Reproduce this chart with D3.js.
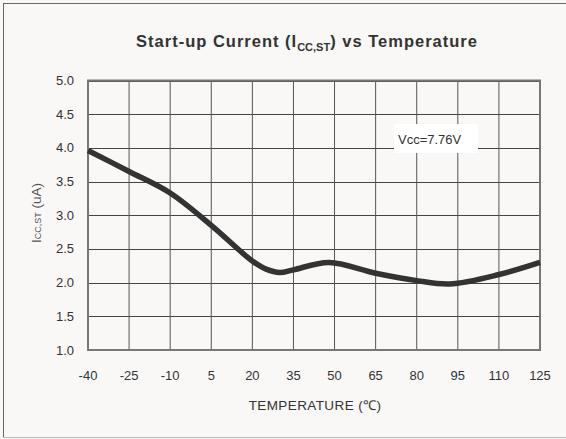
<!DOCTYPE html>
<html>
<head>
<meta charset="utf-8">
<script src="https://cdn.jsdelivr.net/npm/d3@7"></script>
<style>
  body { margin: 0; background: #fff; }
  svg { display: block; font-family: "Liberation Sans", Arial, sans-serif; }
</style>
</head>
<body>
<svg width="566" height="439"></svg>
<script>
// values
var temps = [-40, -25, -10, 5, 20, 25, 30, 35, 48, 65, 80, 92, 110, 125];
var current = [3.96, 3.65, 3.33, 2.85, 2.32, 2.2, 2.15, 2.19, 2.3, 2.14, 2.03, 1.98, 2.12, 2.3];
var xTicks = [-40, -25, -10, 5, 20, 35, 50, 65, 80, 95, 110, 125];
var yTicks = [1.0, 1.5, 2.0, 2.5, 3.0, 3.5, 4.0, 4.5, 5.0];

let svg = d3.select("svg");

var margin = { left: 88, right: 540, top: 80.5, bottom: 350 };

// frame
svg.append("rect")
  .attr("x", 0).attr("y", 0).attr("width", 566).attr("height", 439)
  .attr("fill", "#f9f8f7");
svg.append("rect")
  .attr("x", 3.5).attr("y", 3.5).attr("width", 563).attr("height", 434)
  .attr("fill", "none").attr("stroke", "#666").attr("stroke-width", 1);
svg.append("line")
  .attr("x1", 3).attr("x2", 566).attr("y1", 437.5).attr("y2", 437.5)
  .attr("stroke", "#bbb");

var x = d3.scaleLinear().domain([-40, 125]).range([margin.left, margin.right]);
var y = d3.scaleLinear().domain([1, 5]).range([margin.bottom, margin.top]);

var g = svg.append("g");

// gridlines
g.selectAll(".hgrid")
  .data(yTicks)
  .enter()
  .append("line")
  .attr("x1", margin.left).attr("x2", margin.right)
  .attr("y1", function (d) { return Math.round(y(d)) + 0.5; })
  .attr("y2", function (d) { return Math.round(y(d)) + 0.5; })
  .attr("stroke", "#444").attr("stroke-width", 1);

g.selectAll(".vgrid")
  .data(xTicks)
  .enter()
  .append("line")
  .attr("y1", margin.top).attr("y2", margin.bottom)
  .attr("x1", function (d) { return x(d); })
  .attr("x2", function (d) { return x(d); })
  .attr("stroke", "#555").attr("stroke-width", 1);

// plot border
g.append("rect")
  .attr("x", margin.left).attr("y", margin.top)
  .attr("width", margin.right - margin.left).attr("height", margin.bottom - margin.top)
  .attr("fill", "none").attr("stroke", "#777").attr("stroke-width", 2);

// tick labels
g.selectAll(".ylab")
  .data(yTicks)
  .enter()
  .append("text")
  .attr("x", 74)
  .attr("y", function (d) { return y(d) + 4.5; })
  .attr("text-anchor", "end")
  .attr("font-size", 13)
  .attr("fill", "#333")
  .text(function (d) { return d3.format(".1f")(d); });

g.selectAll(".xlab")
  .data(xTicks)
  .enter()
  .append("text")
  .attr("x", function (d) { return x(d); })
  .attr("y", 380)
  .attr("text-anchor", "middle")
  .attr("font-size", 13)
  .attr("fill", "#333")
  .text(function (d) { return d; });

// annotation box
g.append("rect")
  .attr("x", 394).attr("y", 124).attr("width", 84).attr("height", 29)
  .attr("fill", "#fff");
g.append("text")
  .attr("x", 398).attr("y", 144)
  .attr("font-size", 13)
  .attr("fill", "#333")
  .text("Vcc=7.76V");

// the curve
var line = d3.line()
  .x(function (d, i) { return x(temps[i]); })
  .y(function (d) { return y(d); })
  .curve(d3.curveCatmullRom.alpha(0.5));

g.append("path")
  .datum(current)
  .attr("d", line)
  .attr("fill", "none")
  .attr("stroke", "#333")
  .attr("stroke-width", 5.5)
  .attr("stroke-linejoin", "round");

// titles
var title = svg.append("text")
  .attr("x", 307).attr("y", 47)
  .attr("text-anchor", "middle")
  .attr("font-size", 16.5)
  .attr("font-weight", "bold")
  .attr("letter-spacing", 1)
  .attr("fill", "#333");
title.append("tspan").text("Start-up Current (I");
title.append("tspan").attr("font-size", 11).attr("letter-spacing", 0).attr("dy", 4).text("CC,ST");
title.append("tspan").attr("dy", -4).text(") vs Temperature");

svg.append("text")
  .attr("x", 315).attr("y", 410)
  .attr("text-anchor", "middle")
  .attr("font-size", 13.5)
  .attr("letter-spacing", 0.4)
  .attr("fill", "#333")
  .text("TEMPERATURE (\u2103)");

var ylabel = svg.append("text")
  .attr("transform", "translate(41,213) rotate(-90)")
  .attr("text-anchor", "middle")
  .attr("font-size", 13.5)
  .attr("fill", "#555");
ylabel.append("tspan").text("I");
ylabel.append("tspan").attr("font-size", 9).text("CC,ST");
ylabel.append("tspan").text(" (uA)");
</script>
</body>
</html>
